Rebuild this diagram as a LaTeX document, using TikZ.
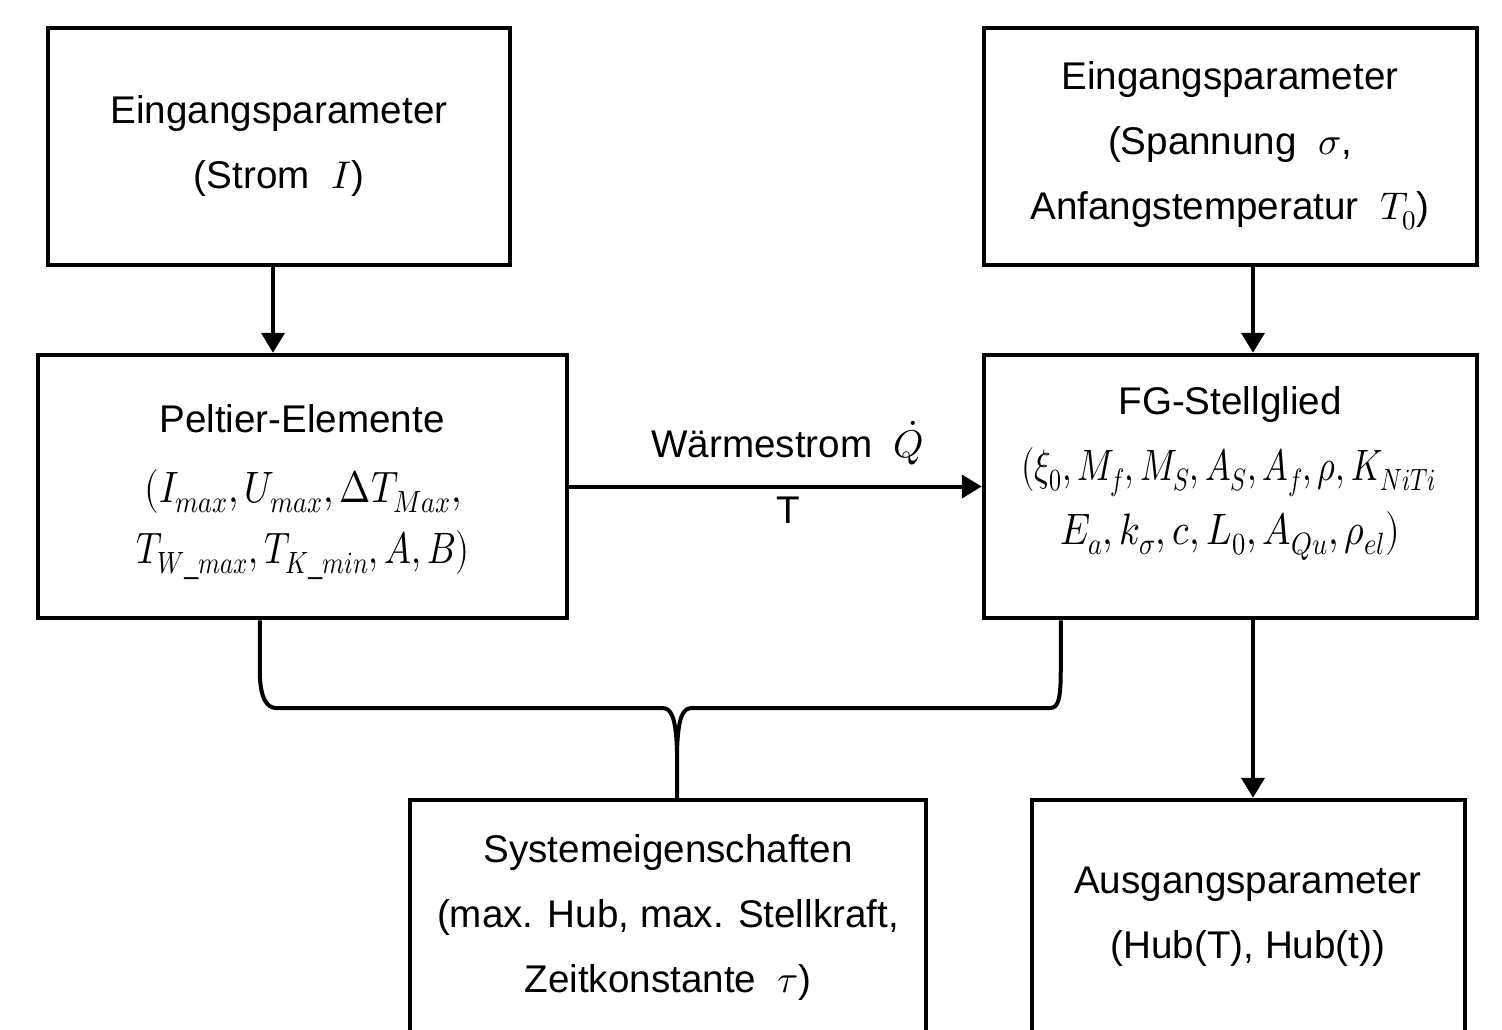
\documentclass[tikz,border=0pt]{standalone}
\usepackage{fontspec}
\usepackage{unicode-math}
\setmainfont{Liberation Sans}
\setmathfont{Latin Modern Math}
\usetikzlibrary{arrows.meta}
\newcommand{\fitmath}[2]{\resizebox{#1}{\height}{#2}}
\begin{document}
\begin{tikzpicture}[x=1pt,y=-1pt,
  box/.style={draw, line width=4.5pt, inner sep=0pt},
  txt/.style={align=center, inner sep=0pt, font=\fontsize{38.6}{65}\selectfont},
  conn/.style={line width=4pt},
  arr/.style={line width=4pt, -{Triangle[length=20pt,width=23pt]}},
  bigm/.style={font=\fontsize{44}{65}\selectfont}]
\clip (0,0) rectangle (1502,1029);
\fill[white] (0,0) rectangle (1502,1029);
% boxes
\node[box, minimum width=462pt, minimum height=237pt] (in1) at (279,146.5) {};
\node[box, minimum width=493pt, minimum height=237pt] (in2) at (1230.5,146.5) {};
\node[box, minimum width=529pt, minimum height=263pt] (pel) at (302.5,486.5) {};
\node[box, minimum width=493pt, minimum height=263pt] (fg) at (1230.5,486.5) {};
\node[box, minimum width=516pt, minimum height=300pt] (sys) at (668,950) {};
\node[box, minimum width=433pt, minimum height=300pt] (aus) at (1248.5,950) {};
% texts
\node[txt] (t1) at (279,146) {Eingangsparameter\\(Strom~ $I$)};
\node[txt] (t2) at (1230,146) {Eingangsparameter\\(Spannung~ $\sigma$,\\Anfangstemperatur~ $T_0$)};
\node[txt, anchor=base] (t3a) at (302,432) {Peltier-Elemente};
\node[txt, bigm, anchor=base] (t3b) at (303,502) {\fitmath{317pt}{$(I_{max}{,}\,U_{max}{,}\,\Delta T_{Max}{,}$}};
\node[txt, bigm, anchor=base] (t3c) at (303,563) {\fitmath{333pt}{$T_{W\text{\textunderscore}max}{,}\,T_{K\text{\textunderscore}min}{,}\,A{,}\,B)$}};
\node[txt, anchor=base] (t4a) at (1230,414) {FG-Stellglied};
\node[txt, bigm, anchor=base] (t4b) at (1229,480) {\fitmath{415pt}{$(\xi_0{,}\,M_f{,}\,M_S{,}\,A_S{,}\,A_f{,}\,\rho{,}\,K_{NiTi}$}};
\node[txt, bigm, anchor=base] (t4c) at (1230,544) {\fitmath{340pt}{$E_a{,}\,k_\sigma{,}\,c{,}\,L_0{,}\,A_{Qu}{,}\,\rho_{el})$}};
\node[txt] (t5) at (668,917) {Systemeigenschaften\\(max. Hub, max. Stellkraft,\\Zeitkonstante~ $\tau$)};
\node[txt] (t6) at (1248,917) {Ausgangsparameter\\(Hub(T), Hub(t))};
% arrows
\coordinate (a1) at ([xshift=-6pt]in1.south);
\draw[arr] (a1) -- (a1 |- pel.north);
\coordinate (a2) at ([xshift=22.5pt]in2.south);
\draw[arr] (a2) -- (a2 |- fg.north);
\coordinate (a3) at ([xshift=22.5pt]fg.south);
\draw[arr] (a3) -- (a3 |- aus.north);
\draw[arr] (pel.east) -- node[txt, pos=0.53, above=20pt] (lq) {Wärmestrom~ $\dot{Q}$}
  node[txt, pos=0.53, below=8pt] (lt) {T} (fg.west);
% brace
\coordinate (bl) at ([xshift=224pt]pel.south west);
\coordinate (br) at ([xshift=79pt]fg.south west);
\coordinate (bj) at ([xshift=9pt]sys.north);
\draw[conn, line join=round] (bl) -- ++(0,50) .. controls +(0,30) and +(-8,0) .. (276,708)
  -- (662,708) .. controls (671,708) and (676,716) .. (677,752) -- (bj);
\draw[conn, line join=round] (br) -- ++(0,50) .. controls +(0,30) and +(8,0) .. (1050,708)
  -- (692,708) .. controls (683,708) and (678,716) .. (677,752);
\end{tikzpicture}
\end{document}
